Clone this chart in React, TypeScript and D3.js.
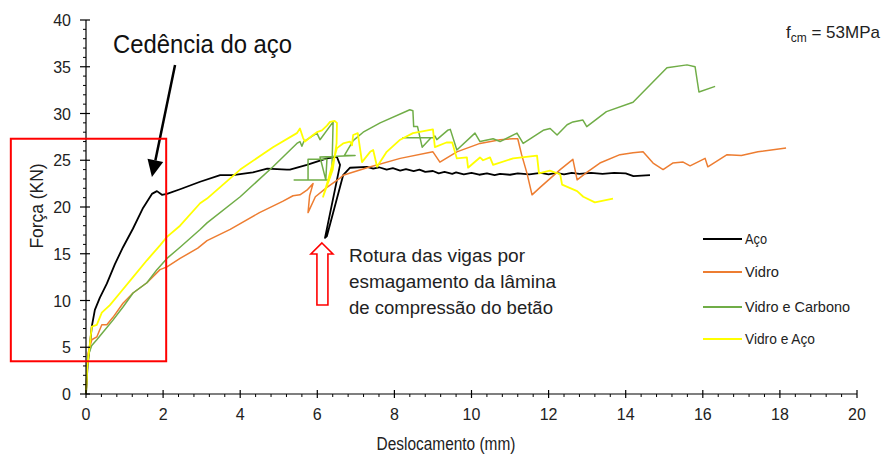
import React from "react";
import * as d3 from "d3";

const W = 885, H = 456;
const xTicks = [0, 2, 4, 6, 8, 10, 12, 14, 16, 18, 20];
const yTicks = [0, 5, 10, 15, 20, 25, 30, 35, 40];

const seriesNames = ["Aço", "Vidro", "Vidro e Carbono", "Vidro e Aço"];
const seriesColors = ["#000000", "#ED7D31", "#70AD47", "#FFFF00"];
const seriesWidths = [1.8, 1.5, 1.5, 1.8];

const aco: [number, number][] = [
  [0, 0], [0.04, 3], [0.1, 5.2], [0.15, 7.2], [0.23, 9.0], [0.36, 10.3], [0.54, 11.8], [0.75, 13.9], [0.96, 15.7],
  [1.22, 17.7], [1.48, 19.9], [1.71, 21.4], [1.84, 21.7], [1.97, 21.3], [2.1, 21.4], [2.44, 21.9], [2.96, 22.7],
  [3.48, 23.4], [3.81, 23.4], [4.33, 23.7], [4.7, 24.1], [5.21, 24.0], [5.29, 24.0], [5.73, 24.5], [6.25, 25.2],
  [6.51, 25.35], [6.59, 24.5], [6.2, 16.7], [6.25, 16.9], [6.67, 23.4], [6.85, 24.2], [7.29, 24.3], [7.45, 24.1],
  [7.6, 24.25], [7.8, 24.0], [7.96, 24.15], [8.15, 23.9], [8.3, 24.05], [8.5, 23.85], [8.65, 24.0], [8.8, 23.75],
  [9.0, 23.85], [9.15, 23.6], [9.3, 23.75], [9.5, 23.55], [9.6, 23.7], [9.8, 23.5], [10.0, 23.65], [10.2, 23.45],
  [10.4, 23.6], [10.6, 23.4], [10.74, 23.55], [11.0, 23.45], [11.2, 23.6], [11.5, 23.5], [11.8, 23.65],
  [12.0, 23.5], [12.2, 23.65], [12.4, 23.5], [12.6, 23.65], [12.8, 23.55], [13.1, 23.65], [13.4, 23.55],
  [13.7, 23.65], [14.0, 23.6], [14.2, 23.3], [14.63, 23.4],
];

const vidro: [number, number][] = [
  [0, 0], [0.05, 4.3], [0.15, 5.8], [0.28, 6.1], [0.41, 7.4], [0.54, 7.4], [0.7, 8.2], [0.96, 9.7], [1.22, 10.8],
  [1.58, 11.9], [1.92, 13.3], [2.1, 13.6], [2.44, 14.5], [2.9, 15.6], [3.14, 16.4], [3.74, 17.6], [4.5, 19.4],
  [5.1, 20.6], [5.37, 21.2], [5.55, 21.3], [5.73, 21.8], [5.89, 22.5], [5.8, 21.2], [5.76, 19.4], [5.95, 21.1],
  [6.25, 22.1], [6.59, 23.1], [6.67, 23.4], [7.29, 24.2], [8.15, 25.2], [9.0, 25.9], [9.18, 24.8], [9.62, 25.9],
  [10.22, 26.8], [10.74, 27.2], [11.08, 27.3], [11.2, 27.3], [11.3, 25.6], [11.44, 23.6], [11.57, 21.3],
  [11.78, 22.1], [12.3, 24.0], [12.63, 25.1], [12.74, 22.9], [12.99, 23.7], [13.33, 24.7], [13.85, 25.6],
  [14.19, 25.8], [14.45, 25.9], [14.71, 24.7], [14.97, 24.0], [15.22, 24.7], [15.49, 24.8], [15.67, 24.4],
  [16.06, 25.2], [16.13, 24.3], [16.63, 25.6], [17.0, 25.5], [17.43, 25.9], [18.16, 26.3],
];

const vidroCarbono: [number, number][] = [
  [0, 0], [0.05, 4.0], [0.15, 5.2], [0.28, 5.8], [0.44, 6.6], [0.7, 7.9], [0.96, 9.3], [1.22, 10.8], [1.58, 11.9],
  [1.84, 13.3], [2.1, 14.5], [2.44, 15.7], [2.96, 17.6], [3.14, 18.3], [4.0, 21.1], [4.85, 24.3], [5.47, 26.8],
  [5.55, 27.0], [5.6, 26.5], [5.65, 27.0], [5.99, 27.9], [6.07, 27.2], [6.41, 29.1], [6.38, 24.0], [6.3, 22.9],
  [5.4, 22.9], [5.76, 22.9], [5.76, 25.1], [6.25, 25.1], [6.22, 22.9], [6.07, 25.35], [6.98, 25.5], [6.7, 25.5],
  [6.93, 27.1], [7.19, 28.0], [7.63, 29.0], [8.4, 30.4], [8.48, 30.3], [8.5, 28.6], [8.6, 28.6], [8.72, 26.4],
  [8.95, 27.4], [8.22, 27.4], [9.0, 27.4], [9.05, 27.6], [9.1, 27.2], [9.38, 28.2], [9.45, 28.3], [9.62, 26.1],
  [10.09, 27.9], [10.22, 27.0], [10.56, 27.3], [10.74, 27.0], [11.18, 27.9], [11.34, 26.8], [11.6, 27.5],
  [11.86, 28.2], [12.04, 28.4], [12.22, 27.7], [12.48, 28.8], [12.63, 29.1], [12.89, 29.3], [12.99, 28.6],
  [13.5, 30.2], [14.19, 31.2], [15.07, 34.9], [15.59, 35.2], [15.8, 35.0], [15.9, 32.3], [16.32, 32.9],
];

const vidroAco: [number, number][] = [
  [0, 0], [0.03, 2.8], [0.15, 7.2], [0.28, 7.4], [0.41, 8.7], [0.62, 9.5], [0.88, 10.8], [1.22, 12.5],
  [1.58, 14.3], [1.92, 15.9], [2.1, 16.8], [2.44, 18.0], [2.96, 20.4], [3.14, 20.9], [4.0, 24.0], [4.85, 26.4],
  [5.47, 27.9], [5.55, 28.4], [5.63, 27.4], [5.68, 27.0], [5.89, 27.7], [5.99, 28.0], [6.12, 28.2], [6.25, 28.7],
  [6.33, 29.1], [6.45, 29.2], [6.51, 29.0], [6.5, 26.8], [6.4, 24.0], [6.15, 21.1], [6.28, 22.9], [6.51, 26.3],
  [6.67, 26.8], [6.85, 27.0], [6.9, 26.6], [6.93, 27.7], [7.05, 27.9], [7.16, 24.8], [7.37, 25.9], [7.45, 26.1],
  [7.55, 24.3], [7.8, 25.9], [8.15, 27.2], [8.48, 27.9], [9.0, 28.3], [9.05, 26.4], [9.35, 26.9], [9.5, 26.9],
  [9.62, 25.2], [9.88, 25.3], [9.91, 24.2], [10.22, 25.3], [10.3, 25.0], [10.48, 25.3], [10.56, 24.5],
  [11.08, 25.2], [11.7, 25.5], [11.75, 23.6], [12.03, 23.9], [12.3, 23.5], [12.35, 22.4], [12.74, 21.7],
  [12.9, 21.1], [13.2, 20.5], [13.67, 20.9],
];

const allSeries = [aco, vidro, vidroCarbono, vidroAco];

const FONT = "'Liberation Sans Narrow', 'Liberation Sans', Arial, sans-serif";

export default function App() {
  const x = d3.scaleLinear().domain([0, 20]).range([86, 857]);
  const y = d3.scaleLinear().domain([0, 40]).range([394, 20]);
  const line = d3.line<[number, number]>().x(d => x(d[0])).y(d => y(d[1]));

  const xMinor = d3.range(0, 20.001, 0.4).filter(v => Math.abs(v / 2 - Math.round(v / 2)) > 1e-6);
  const yMinor = d3.range(0, 40.001, 1).filter(v => v % 5 !== 0);

  const arrTip: [number, number] = [1.71, 23.2];
  const arrStart: [number, number] = [2.31, 35.2];
  const tx = x(arrTip[0]), ty = y(arrTip[1]);
  const sx = x(arrStart[0]), sy = y(arrStart[1]);
  const ang = Math.atan2(ty - sy, tx - sx);
  const hl = 17, hw = 8;
  const bx = tx - hl * Math.cos(ang), by = ty - hl * Math.sin(ang);
  const head = [
    [tx, ty],
    [bx + hw * Math.sin(ang), by - hw * Math.cos(ang)],
    [bx - hw * Math.sin(ang), by + hw * Math.cos(ang)],
  ].map(p => p.join(",")).join(" ");

  const rx0 = x(-1.95), rx1 = x(2.08), ry0 = y(27.3), ry1 = y(3.5);

  const ux = x(6.12), uy = y(16.15);
  const upArrow = [
    [ux, uy], [ux + 11, uy + 11], [ux + 6, uy + 11], [ux + 6, uy + 62], [ux - 5, uy + 62], [ux - 5, uy + 11], [ux - 11, uy + 11],
  ].map(p => p.join(",")).join(" ");

  return (
    <svg width={W} height={H} style={{ position: "absolute", left: 0, top: 0, background: "#fff" }}>
      <rect x={0} y={0} width={W} height={H} fill="#fff" />
      {allSeries.map((s, i) => (
        <path key={i} d={line(s) || ""} fill="none" stroke={seriesColors[i]} strokeWidth={seriesWidths[i]} strokeLinejoin="round" />
      ))}
      <line x1={x(0)} x2={x(20)} y1={y(0)} y2={y(0)} stroke="#000" strokeWidth={1.2} />
      <line x1={x(0)} x2={x(0)} y1={y(0)} y2={y(40)} stroke="#000" strokeWidth={1.2} />
      {xTicks.map(t => (
        <g key={"xt" + t}>
          <line x1={x(t)} x2={x(t)} y1={y(0) - 4} y2={y(0) + 4} stroke="#000" strokeWidth={1.2} />
          <text x={x(t)} y={420} textAnchor="middle" fontFamily={FONT} fontSize={16} fill="#222">{t}</text>
        </g>
      ))}
      {xMinor.map(t => (
        <line key={"xm" + t} x1={x(t)} x2={x(t)} y1={y(0)} y2={y(0) + 3} stroke="#000" strokeWidth={1} />
      ))}
      {yTicks.map(t => (
        <g key={"yt" + t}>
          <line x1={x(0) - 6} x2={x(0) + 4} y1={y(t)} y2={y(t)} stroke="#000" strokeWidth={1.2} />
          <text x={71} y={y(t) + 6} textAnchor="end" fontFamily={FONT} fontSize={16} fill="#222">{t}</text>
        </g>
      ))}
      {yMinor.map(t => (
        <line key={"ym" + t} x1={x(0) - 3} x2={x(0)} y1={y(t)} y2={y(t)} stroke="#000" strokeWidth={1} />
      ))}
      <text x={446} y={450} textAnchor="middle" fontFamily={FONT} fontSize={17.5} fill="#222" textLength={139} lengthAdjust="spacingAndGlyphs">Deslocamento (mm)</text>
      <text transform="translate(43,206) rotate(-90)" textAnchor="middle" fontFamily={FONT} fontSize={17.5} fill="#222" textLength={85} lengthAdjust="spacingAndGlyphs">Força (KN)</text>

      <text x={786} y={38} fontFamily={FONT} fontSize={17} fill="#222">
        f<tspan fontSize={12} dy={4}>cm</tspan><tspan dy={-4}> = 53MPa</tspan>
      </text>

      {seriesNames.map((n, i) => {
        const ly = [239, 272, 307, 339][i];
        const lens = [22, 34, 105, 70][i];
        return (
          <g key={n}>
            <line x1={703} x2={742} y1={ly} y2={ly} stroke={seriesColors[i]} strokeWidth={1.8} />
            <text x={745} y={ly + 5} fontFamily={FONT} fontSize={15} fill="#222" textLength={lens} lengthAdjust="spacingAndGlyphs">{n}</text>
          </g>
        );
      })}

      <text x={113} y={53} fontFamily={FONT} fontSize={25} fill="#111" textLength={179} lengthAdjust="spacingAndGlyphs">Cedência do aço</text>
      <line x1={sx} y1={sy} x2={bx} y2={by} stroke="#000" strokeWidth={2.5} />
      <polygon points={head} fill="#000" />
      <rect x={rx0} y={ry0} width={rx1 - rx0} height={ry1 - ry0} fill="none" stroke="#ff0000" strokeWidth={2} />
      <polygon points={upArrow} fill="#fff" stroke="#ff0000" strokeWidth={1.6} />
      <text x={349} y={262} fontFamily={FONT} fontSize={17.5} fill="#222" textLength={176} lengthAdjust="spacingAndGlyphs">Rotura das vigas por</text>
      <text x={349} y={288} fontFamily={FONT} fontSize={17.5} fill="#222" textLength={207} lengthAdjust="spacingAndGlyphs">esmagamento da lâmina</text>
      <text x={349} y={314} fontFamily={FONT} fontSize={17.5} fill="#222" textLength={204} lengthAdjust="spacingAndGlyphs">de compressão do betão</text>
    </svg>
  );
}
